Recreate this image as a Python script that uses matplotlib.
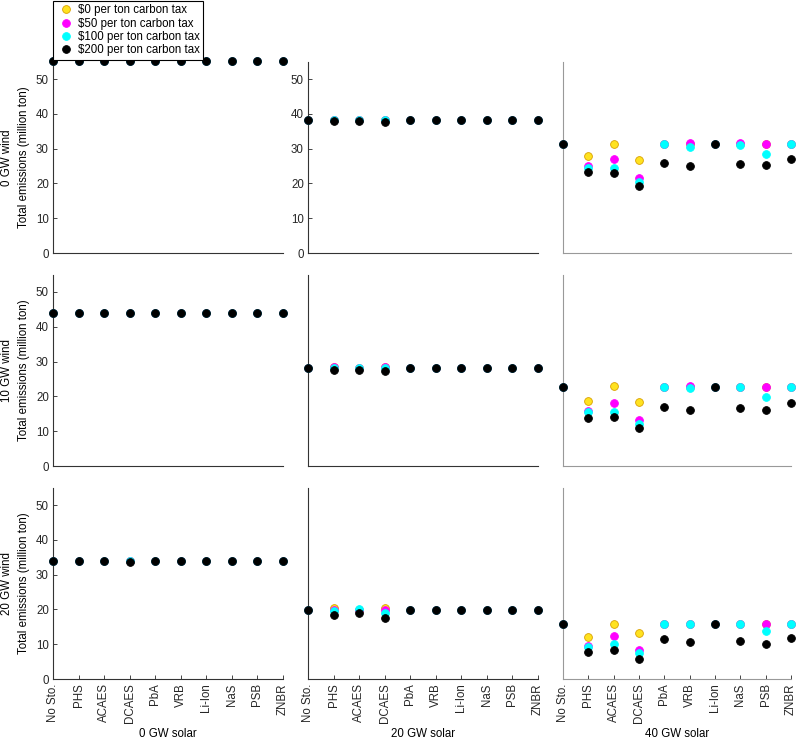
import matplotlib
matplotlib.use("Agg")
import matplotlib.pyplot as plt

plt.rcParams['font.family'] = ['Liberation Sans', 'DejaVu Sans']
plt.rcParams['font.size'] = 8.3

storage = ["No Sto.", "PHS", "ACAES", "DCAES", "PbA", "VRB", "Li-Ion", "NaS", "PSB", "ZNBR"]
wind_labels = ["0 GW wind", "10 GW wind", "20 GW wind"]
solar_labels = ["0 GW solar", "20 GW solar", "40 GW solar"]
tax_labels = ["$0 per ton carbon tax", "$50 per ton carbon tax",
              "$100 per ton carbon tax", "$200 per ton carbon tax"]
tax_colors = ["#FFE21F", "#FF00FF", "#00FFFF", "#000000"]
tax_edges = ["#D9A000", "#FF00FF", "#00FFFF", "#000000"]

# emissions per panel, rows = $0, $50, $100, $200 carbon tax
w0_s0 = [[55.2] * 10, [55.2] * 10, [55.2] * 10, [55.2] * 10]
w0_s20 = [
    [38.1, 38.3, 38.1, 38.3, 38.1, 38.1, 38.1, 38.1, 38.1, 38.1],
    [38.1, 38.3, 38.1, 38.3, 38.1, 38.1, 38.1, 38.1, 38.1, 38.1],
    [38.1, 38.3, 38.1, 38.3, 38.1, 38.1, 38.1, 38.1, 38.1, 38.1],
    [38.1, 37.8, 38.0, 37.6, 38.1, 38.1, 38.1, 38.1, 38.1, 38.1],
]
w0_s40 = [
    [31.4, 27.9, 31.4, 26.8, 31.4, 31.4, 31.4, 31.4, 31.4, 31.4],
    [31.4, 24.9, 27.1, 21.6, 31.4, 31.6, 31.4, 31.6, 31.4, 31.4],
    [31.4, 24.5, 24.5, 20.5, 31.4, 30.4, 31.4, 31.0, 28.4, 31.4],
    [31.4, 23.4, 23.0, 19.2, 26.0, 25.0, 31.4, 25.6, 25.2, 27.0],
]
w10_s0 = [[44.0] * 10, [44.0] * 10, [44.0] * 10, [44.0] * 10]
w10_s20 = [
    [28.2, 28.4, 28.2, 28.4, 28.2, 28.2, 28.2, 28.2, 28.2, 28.2],
    [28.2, 28.4, 28.2, 28.4, 28.2, 28.2, 28.2, 28.2, 28.2, 28.2],
    [28.2, 28.3, 28.3, 28.3, 28.2, 28.2, 28.2, 28.2, 28.2, 28.2],
    [28.2, 27.6, 27.7, 27.2, 28.2, 28.2, 28.2, 28.2, 28.2, 28.2],
]
w10_s40 = [
    [22.8, 18.7, 22.9, 18.4, 22.8, 22.8, 22.8, 22.8, 22.8, 22.8],
    [22.8, 15.9, 18.1, 13.1, 22.8, 22.9, 22.8, 22.8, 22.8, 22.8],
    [22.8, 15.4, 15.6, 12.1, 22.8, 22.5, 22.8, 22.8, 19.7, 22.8],
    [22.8, 13.9, 14.0, 10.8, 17.0, 16.0, 22.8, 16.7, 16.1, 18.0],
]
w20_s0 = [
    [33.9] * 10,
    [33.9] * 10,
    [33.9, 33.9, 33.9, 34.0, 33.9, 33.9, 33.9, 33.9, 33.9, 33.9],
    [33.9, 33.9, 33.9, 33.7, 33.9, 33.9, 33.9, 33.9, 33.9, 33.9],
]
w20_s20 = [
    [19.9, 20.3, 19.9, 20.3, 19.9, 19.9, 19.9, 19.9, 19.9, 19.9],
    [19.9, 19.8, 19.9, 19.7, 19.9, 19.9, 19.9, 19.9, 19.9, 19.9],
    [19.9, 19.4, 20.0, 19.0, 19.9, 19.9, 19.9, 19.9, 19.9, 19.9],
    [19.9, 18.3, 19.0, 17.5, 19.9, 19.9, 19.9, 19.9, 19.9, 19.9],
]
w20_s40 = [
    [15.7, 12.1, 15.7, 13.3, 15.7, 15.7, 15.7, 15.7, 15.7, 15.7],
    [15.7, 9.4, 12.3, 8.2, 15.7, 15.7, 15.7, 15.7, 15.7, 15.7],
    [15.7, 9.1, 10.0, 7.4, 15.7, 15.7, 15.7, 15.7, 13.7, 15.7],
    [15.7, 7.9, 8.4, 5.7, 11.4, 10.5, 15.7, 10.9, 10.1, 11.7],
]

panels = [[w0_s0, w0_s20, w0_s40],
          [w10_s0, w10_s20, w10_s40],
          [w20_s0, w20_s20, w20_s40]]

W, H = 798, 741
fig = plt.figure(figsize=(W / 100, H / 100), dpi=100)

col_left = [53, 308, 563]
col_width = [230, 230, 228]
row_zero = [253, 466, 679]
row_height = 191.4

x = list(range(1, len(storage) + 1))
handles = []
for r in range(3):
    for c in range(3):
        ax = fig.add_axes([col_left[c] / W, 1 - row_zero[r] / H,
                           col_width[c] / W, row_height / H])
        data = panels[r][c]
        for k in range(4):
            h, = ax.plot(x, data[k], 'o', ms=5.6, mfc=tax_colors[k],
                         mec=tax_edges[k], mew=0.6, clip_on=False,
                         label=tax_labels[k], zorder=3 + k)
            if r == 0 and c == 0:
                handles.append(h)
        ax.set_xlim(1, 10)
        ax.set_ylim(0, 55)
        for s in ['top', 'right']:
            ax.spines[s].set_visible(False)
        spine_col = '#999999' if c == 2 else '#333333'
        for s in ['left', 'bottom']:
            ax.spines[s].set_color(spine_col)
            ax.spines[s].set_linewidth(0.8)
        ax.tick_params(direction='in', length=3, width=0.6, colors='#262626',
                       labelcolor='#262626', pad=3)
        if c == 0 or (r == 0 and c == 1):
            ax.set_yticks([0, 10, 20, 30, 40, 50])
        else:
            ax.set_yticks([])
        if c == 0:
            ax.set_ylabel(wind_labels[r] + "\nTotal emissions (million ton)",
                          labelpad=4, linespacing=1.55)
        if r == 2:
            ax.set_xticks(x)
            ax.set_xticklabels(storage, rotation=90)
            ax.set_xlabel(solar_labels[c], labelpad=4)
        else:
            ax.set_xticks([])

leg = fig.legend(handles=handles, loc='upper left',
                 bbox_to_anchor=(53 / W, 0.999), borderaxespad=0,
                 frameon=True, fancybox=False, edgecolor='black',
                 framealpha=1, handletextpad=0.15, handlelength=1.7,
                 labelspacing=0.12, borderpad=0.3, markerscale=1.0)
leg.get_frame().set_linewidth(0.8)
leg.set_zorder(20)

fig.savefig("out.png", dpi=100)
